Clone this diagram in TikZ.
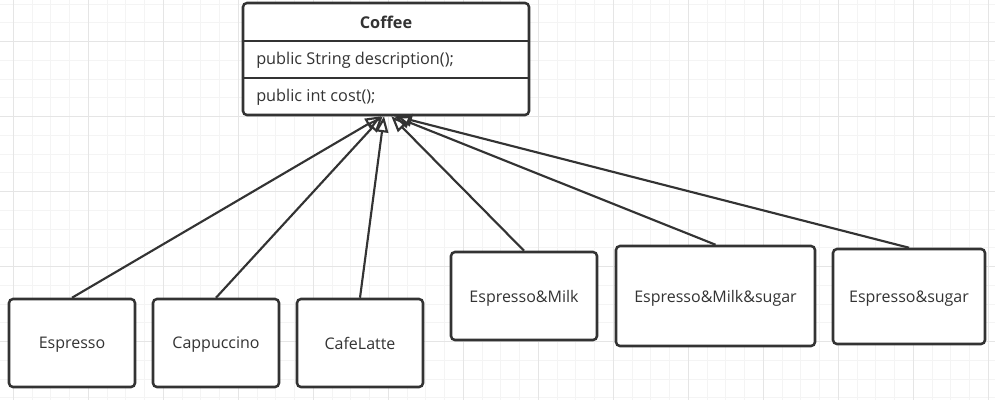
\documentclass[tikz,border=0pt]{standalone}
\usepackage{fontspec}
\setmainfont{Open Sans}
\usepackage{tikz}
\usetikzlibrary{positioning,arrows.meta}
\usepackage{xcolor}
\definecolor{edgegray}{HTML}{333333}
\definecolor{textgray}{HTML}{333333}

\begin{document}
\begin{tikzpicture}[x=0.75pt,y=-0.75pt,>={Triangle[open,length=12pt,width=9.5pt]},
    gridminor/.style={draw=gray!9,line width=0.6pt},
    gridmajor/.style={draw=gray!20,line width=0.7pt},
    classbox/.style={draw=edgegray,line width=1.9pt,rounded corners=3pt,fill=white,minimum width=214.5pt,minimum height=84pt},
    leafbox/.style={draw=edgegray,line width=1.9pt,rounded corners=3pt,fill=white,minimum height=66pt,text depth=0pt,text=textgray,font=\fontsize{12}{14}\selectfont},
    member/.style={anchor=west,inner sep=0pt,text=textgray,font=\fontsize{12.2}{14}\selectfont},
    inherit/.style={->,draw=edgegray,line width=1.6pt}]
    % paper grid
    \fill[white] (0,0) rectangle (995,400);
    \useasboundingbox (0,0) rectangle (995,400);
    \foreach \gx in {0,...,52} \draw[gridminor] ({13.3+18.75*\gx},0) -- ({13.3+18.75*\gx},400);
    \foreach \gy in {0,...,21} \draw[gridminor] (0,{4+18.75*\gy}) -- (995,{4+18.75*\gy});
    \foreach \gx in {0,...,13} \draw[gridmajor] ({13.3+75*\gx},0) -- ({13.3+75*\gx},400);
    \foreach \gy in {0,...,4} \draw[gridmajor] (0,{41.5+75*\gy}) -- (995,{41.5+75*\gy});

    % the interface
    \node[classbox] (coffee) at (386,59) {};
    \node[text=textgray,font=\fontsize{12.2}{14}\selectfont\bfseries] (coffeename) at (386,22.5) {Coffee};
    \coordinate (div1) at (0,41);
    \coordinate (div2) at (0,78);
    \draw[draw=edgegray,line width=1.6pt] (coffee.west |- div1) -- (coffee.east |- div1);
    \draw[draw=edgegray,line width=1.6pt] (coffee.west |- div2) -- (coffee.east |- div2);
    \node[member] (describe) at (256,60) {public String description();};
    \node[member] (cost) at (256,97) {public int cost();};

    % the concrete coffees
    \node[leafbox, minimum width=94.5pt] (espresso) at (72,343) {Espresso};
    \node[leafbox, minimum width=94.5pt] (cappuccino) at (216,343) {Cappuccino};
    \node[leafbox, minimum width=94.5pt] (cafelatte) at (360,343) {CafeLatte};
    \node[leafbox, minimum width=109.5pt] (milk) at (524,296) {Espresso\&Milk};
    \node[leafbox, minimum width=149.25pt, minimum height=75pt] (milksugar) at (715.5,296) {Espresso\&Milk\&sugar};
    \node[leafbox, minimum width=114pt, minimum height=71.25pt] (sugar) at (909,296.5) {Espresso\&sugar};

    \draw[inherit] (espresso.north) -- ([xshift=-3.5pt]coffee.south);
    \draw[inherit] (cappuccino.north) -- ([xshift=-2.5pt]coffee.south);
    \draw[inherit] (cafelatte.north) -- ([xshift=-1.5pt]coffee.south);
    \draw[inherit] (milk.north) -- ([xshift=4pt]coffee.south);
    \draw[inherit] (milksugar.north) -- ([xshift=6pt]coffee.south);
    \draw[inherit] (sugar.north) -- ([xshift=7.5pt]coffee.south);
\end{tikzpicture}
\end{document}
